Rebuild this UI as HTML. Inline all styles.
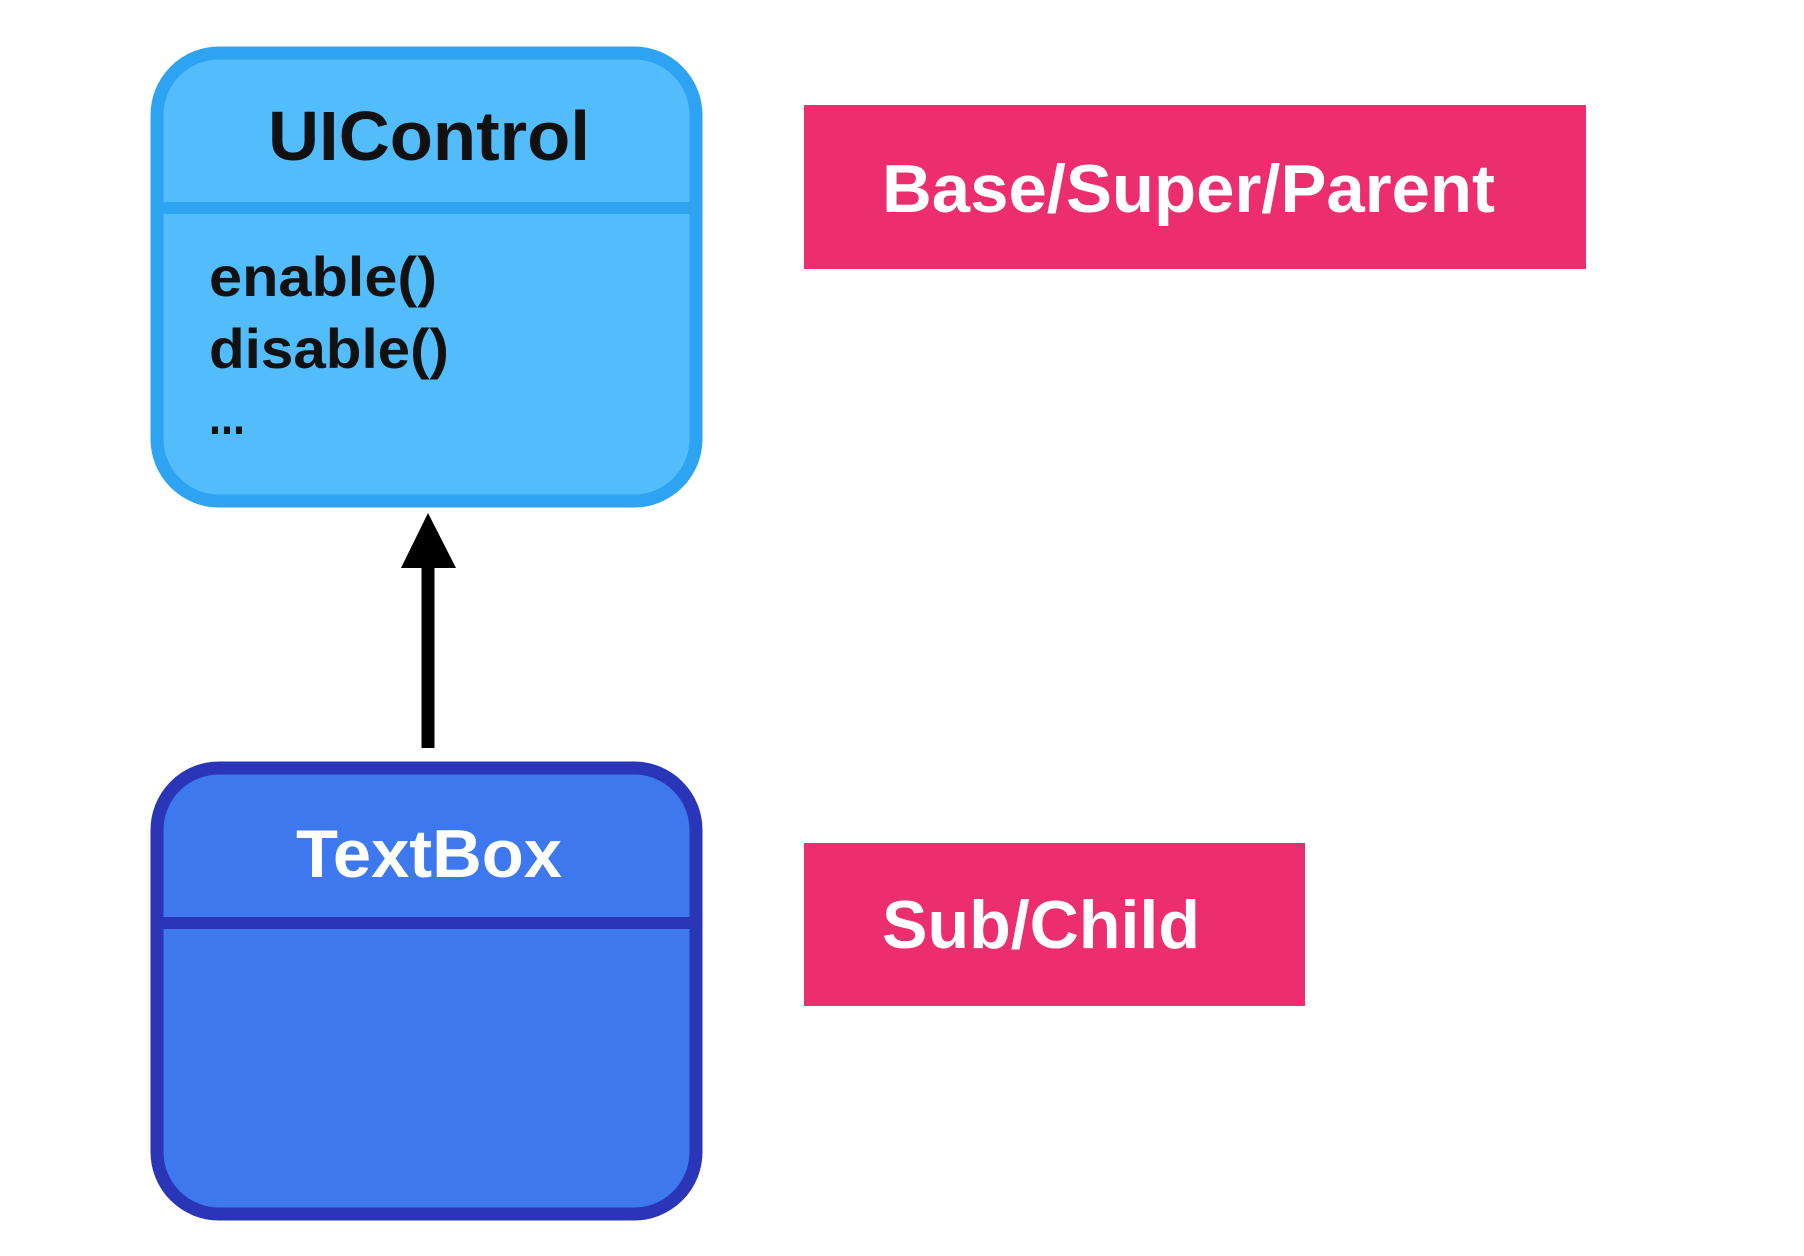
<!DOCTYPE html>
<html><head><meta charset="utf-8"><style>html,body{margin:0;padding:0;background:#fff}svg{display:block}</style></head>
<body>
<svg width="1804" height="1256" viewBox="0 0 1804 1256" xmlns="http://www.w3.org/2000/svg" font-family="Liberation Sans, sans-serif" font-weight="bold">
<rect x="157" y="53" width="539" height="448" rx="62" fill="#52bdfa" stroke="#2ea3f2" stroke-width="13"/>
<line x1="157" y1="208" x2="696" y2="208" stroke="#2ea3f2" stroke-width="12"/>
<text x="268" y="160" font-size="70" fill="#111" textLength="322" lengthAdjust="spacingAndGlyphs">UIControl</text>
<text x="209" y="296" font-size="56" fill="#111" textLength="228" lengthAdjust="spacingAndGlyphs">enable()</text>
<text x="209" y="368" font-size="56" fill="#111" textLength="240" lengthAdjust="spacingAndGlyphs">disable()</text>
<text x="209" y="434" font-size="50" fill="#111" textLength="36" lengthAdjust="spacingAndGlyphs">...</text>
<line x1="428" y1="748" x2="428" y2="560" stroke="#000" stroke-width="13"/>
<polygon points="428,513 456,568 401,568" fill="#000"/>
<rect x="157" y="768" width="539" height="446" rx="62" fill="#3d78ee" stroke="#2a35b8" stroke-width="13"/>
<line x1="157" y1="923" x2="696" y2="923" stroke="#2a35b8" stroke-width="12"/>
<text x="296" y="877" font-size="68" fill="#fff" textLength="266" lengthAdjust="spacingAndGlyphs">TextBox</text>
<rect x="805" y="105" width="782" height="164" fill="#ec2d6e" transform="translate(0,0)" style="display:none"/>
<rect x="804" y="105" width="782" height="164" fill="#ec2d6e" />
<text x="882" y="212" font-size="68" fill="#fff" textLength="613" lengthAdjust="spacingAndGlyphs">Base/Super/Parent</text>
<rect x="804" y="843" width="501" height="163" fill="#ec2d6e"/>
<text x="882" y="948" font-size="68" fill="#fff" textLength="318" lengthAdjust="spacingAndGlyphs">Sub/Child</text>
</svg>
</body></html>
